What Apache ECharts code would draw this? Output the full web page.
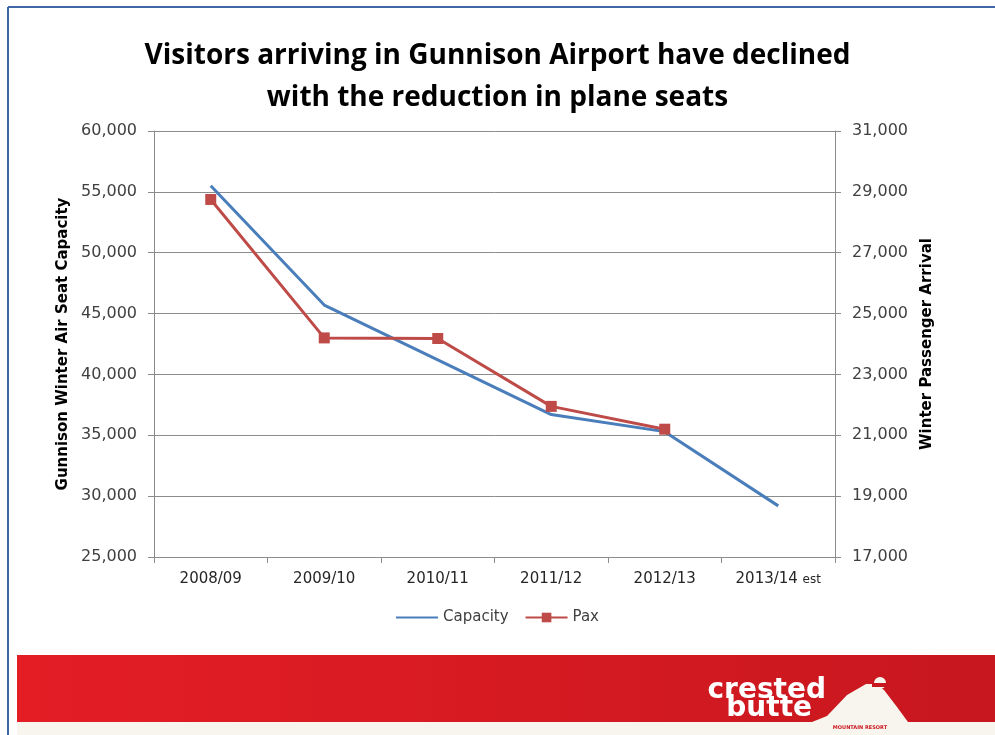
<!DOCTYPE html>
<html>
<head>
<meta charset="utf-8">
<script src="https://cdn.jsdelivr.net/npm/echarts@6/dist/echarts.min.js"></script>
<style>
html,body{margin:0;padding:0;background:#fff;}
#c{width:995px;height:735px;}
</style>
</head>
<body>
<div id="c"></div>
<script>
const categories = ['2008/09', '2009/10', '2010/11', '2011/12', '2012/13', '2013/14 est'];
const capacity = [55500, 45700, 41200, 36700, 35300, 29200];
const pax = [28750, 24200, 24180, 21950, 21200, null];
const leftTicks = {min: 25000, max: 60000, interval: 5000};
const rightTicks = {min: 17000, max: 31000, interval: 2000};

const chart = echarts.init(document.getElementById('c'));
const tickFont = 'DejaVu Sans';
const fmt = v => v.toLocaleString('en-US');

chart.setOption({
  animation: false,
  backgroundColor: '#ffffff',
  title: {
    text: 'Visitors arriving in Gunnison Airport have declined\nwith the reduction in plane seats',
    left: 'center',
    top: 30,
    textStyle: {
      fontFamily: '"Open Sans", sans-serif',
      fontWeight: 'bold',
      fontSize: 28,
      lineHeight: 42,
      color: '#000',
      align: 'center'
    }
  },
  legend: {
    top: 605,
    left: 'center',
    itemWidth: 42,
    itemHeight: 12,
    itemGap: 16,
    textStyle: {fontFamily: tickFont, fontSize: 15, color: '#404040'},
    data: [
      {name: 'Capacity', icon: 'path://M0,5L42,5L42,7L0,7Z'},
      {name: 'Pax'}
    ]
  },
  grid: {left: 154, right: 160, top: 131, height: 426},
  xAxis: {
    type: 'category',
    data: categories,
    boundaryGap: true,
    axisLine: {lineStyle: {color: '#8c8c8c', width: 1}},
    axisTick: {show: true, length: 6, interval: 0, lineStyle: {color: '#8c8c8c'}},
    axisLabel: {
      interval: 0,
      margin: 15,
      color: '#262626',
      fontFamily: tickFont,
      fontSize: 15,
      formatter: function (v) {
        if (v.indexOf(' est') > 0) {
          return '{a|' + v.replace(' est', '') + '} {b|est}';
        }
        return v;
      },
      rich: {
        a: {fontFamily: tickFont, fontSize: 15, color: '#262626'},
        b: {fontFamily: tickFont, fontSize: 12, color: '#262626'}
      }
    }
  },
  yAxis: [
    {
      type: 'value',
      min: leftTicks.min, max: leftTicks.max, interval: leftTicks.interval,
      name: 'Gunnison Winter Air Seat Capacity',
      nameLocation: 'middle',
      nameGap: 82,
      nameRotate: 90,
      nameTextStyle: {fontFamily: tickFont, fontWeight: 'bold', fontSize: 15, color: '#000'},
      axisLine: {show: true, lineStyle: {color: '#8c8c8c'}},
      axisTick: {show: true, length: 6, lineStyle: {color: '#8c8c8c'}},
      axisLabel: {margin: 17, color: '#404040', fontFamily: tickFont, fontSize: 16, formatter: fmt},
      splitLine: {show: true, lineStyle: {color: '#8c8c8c', width: 1}}
    },
    {
      type: 'value',
      min: rightTicks.min, max: rightTicks.max, interval: rightTicks.interval,
      name: 'Winter Passenger Arrival',
      nameLocation: 'middle',
      nameGap: 85,
      nameRotate: 90,
      nameTextStyle: {fontFamily: tickFont, fontWeight: 'bold', fontSize: 15, color: '#000'},
      axisLine: {show: true, lineStyle: {color: '#8c8c8c'}},
      axisTick: {show: true, length: 6, lineStyle: {color: '#8c8c8c'}},
      axisLabel: {margin: 17, color: '#404040', fontFamily: tickFont, fontSize: 16, formatter: fmt},
      splitLine: {show: false}
    }
  ],
  series: [
    {
      name: 'Capacity',
      type: 'line',
      yAxisIndex: 0,
      data: capacity,
      symbol: 'none',
      lineStyle: {color: '#4a7ebb', width: 3},
      itemStyle: {color: '#4a7ebb'},
      z: 2
    },
    {
      name: 'Pax',
      type: 'line',
      yAxisIndex: 1,
      data: pax,
      symbol: 'rect',
      symbolSize: 11,
      lineStyle: {color: '#be4b48', width: 3},
      itemStyle: {color: '#be4b48'},
      z: 3
    }
  ],
  graphic: [
    {type: 'line', shape: {x1: 8, y1: 7, x2: 995, y2: 7}, style: {stroke: '#3f67a3', lineWidth: 2}},
    {type: 'line', shape: {x1: 8, y1: 7, x2: 8, y2: 735}, style: {stroke: '#3f67a3', lineWidth: 2}},
    {type: 'rect', shape: {x: 17, y: 722, width: 978, height: 13}, style: {fill: '#f8f5ee'}},
    {type: 'rect', shape: {x: 17, y: 655, width: 978, height: 67},
      style: {fill: new echarts.graphic.LinearGradient(0, 0, 1, 0, [
        {offset: 0, color: '#e41d25'}, {offset: 1, color: '#c8171f'}
      ])}},
    {type: 'polygon', shape: {points: [[812, 722], [827, 716], [847, 695], [866, 684], [876, 684], [884, 690], [897, 707], [908, 722]]},
      style: {fill: '#f8f5ee'}},
    {type: 'circle', shape: {cx: 880, cy: 683, r: 6}, style: {fill: '#f8f5ee'}},
    {type: 'rect', shape: {x: 872, y: 683, width: 16, height: 4}, style: {fill: '#c8171f'}},
    {type: 'text', x: 826, y: 677, style: {text: 'crested', fill: '#ffffff', font: 'bold 28px "DejaVu Sans"', align: 'right', verticalAlign: 'top', letterSpacing: -2}},
    {type: 'text', x: 812, y: 695, style: {text: 'butte', fill: '#ffffff', font: 'bold 28px "DejaVu Sans"', align: 'right', verticalAlign: 'top', letterSpacing: -2}},
    {type: 'text', x: 860, y: 725, style: {text: 'MOUNTAIN RESORT', fill: '#c8171f', font: 'bold 5px "DejaVu Sans"', align: 'center', verticalAlign: 'top'}}
  ]
});
</script>
</body>
</html>
